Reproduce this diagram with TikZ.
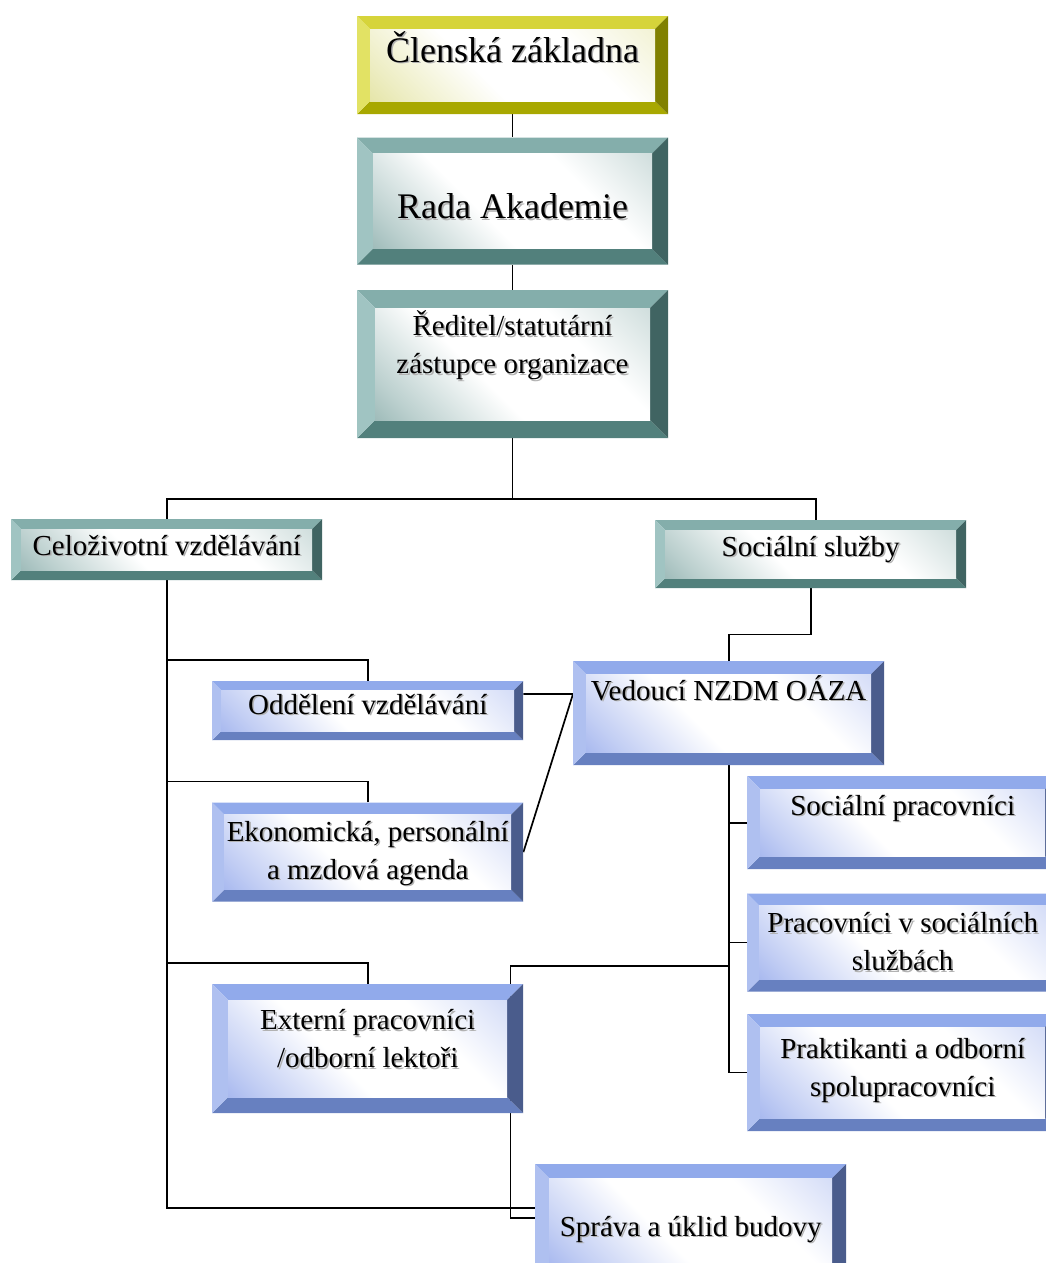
\documentclass[tikz,border=0pt]{standalone}
\usepackage{fontspec}
\setmainfont{Liberation Serif}
\usetikzlibrary{positioning,calc,backgrounds}
\definecolor{yeltop}{RGB}{214,212,58}
\definecolor{yelleft}{RGB}{226,226,100}
\definecolor{yelright}{RGB}{128,128,0}
\definecolor{yelbot}{RGB}{168,168,0}
\definecolor{yelface}{RGB}{215,215,120}
\definecolor{tealtop}{RGB}{132,174,171}
\definecolor{tealleft}{RGB}{160,196,194}
\definecolor{tealright}{RGB}{64,100,98}
\definecolor{tealbot}{RGB}{82,128,124}
\definecolor{tealface}{RGB}{105,150,147}
\definecolor{blutop}{RGB}{145,170,235}
\definecolor{bluleft}{RGB}{175,192,240}
\definecolor{bluright}{RGB}{74,92,140}
\definecolor{blubot}{RGB}{103,128,192}
\definecolor{bluface}{RGB}{120,146,230}
\colorlet{bevS}{bluface}
\pgfdeclareverticalshading[bevS]{bevface}{100bp}{%
  color(0bp)=(bevS); color(22bp)=(bevS!45!white); color(42bp)=(white);
  color(66bp)=(white); color(100bp)=(bevS!55!white)}
\newcommand{\shtxt}[1]{\makebox[0pt][l]{\hspace*{1.6pt}\raisebox{-1.6pt}{\textcolor{black!30}{#1}}}#1}
\tikzset{
  bev width/.store in=\bevw, bev width=13pt,
  bev colors/.style n args={5}{/utils/exec={%
    \def\bevT{#1}\def\bevL{#2}\def\bevR{#3}\def\bevB{#4}\def\bevF{#5}}},
  bevbox/.style={
    rectangle, inner sep=0pt, minimum width=311pt, align=center,
    font=\fontsize{29}{38}\selectfont,
    path picture={
      \coordinate (oSW) at (path picture bounding box.south west);
      \coordinate (oNE) at (path picture bounding box.north east);
      \coordinate (iSW) at ($(oSW)+(\bevw,\bevw)$);
      \coordinate (iNE) at ($(oNE)-(\bevw,\bevw)$);
      \fill[\bevT] (oSW|-oNE) -- (oNE) -- (iNE) -- (iSW|-iNE) -- cycle;
      \fill[\bevB] (oSW) -- (oNE|-oSW) -- (iNE|-iSW) -- (iSW) -- cycle;
      \fill[\bevL] (oSW) -- (oSW|-oNE) -- (iSW|-iNE) -- (iSW) -- cycle;
      \fill[\bevR] (oNE|-oSW) -- (oNE) -- (iNE) -- (iNE|-iSW) -- cycle;
      \colorlet{bevS}{\bevF}
      \shade[shading=bevface, shading angle=-45] (iSW) rectangle (iNE);
    }
  },
  yellowbox/.style={bevbox, bev colors={yeltop}{yelleft}{yelright}{yelbot}{yelface}},
  tealbox/.style={bevbox, bev colors={tealtop}{tealleft}{tealright}{tealbot}{tealface}},
  bluebox/.style={bevbox, bev colors={blutop}{bluleft}{bluright}{blubot}{bluface}},
  bigtext/.style={font=\fontsize{36}{43}\selectfont},
  link/.style={line width=1.7pt},
}

\begin{document}
\begin{tikzpicture}[x=1pt, y=-1pt]
\path[use as bounding box, clip] (0,0) rectangle (1046,1263);

%% ── Top chain ────────────────────────────────────────────────────────────
\node[yellowbox, bigtext, bev width=13pt, text height=46pt, text depth=52pt,
      anchor=north] (clen) at (512.5,16) {\shtxt{Členská základna}};
\node[tealbox, bigtext, bev width=16pt, text height=81pt, text depth=46pt,
      below=23pt of clen] (rada) {\shtxt{Rada Akademie}};
\node[tealbox, bev width=18pt, text height=83.5pt, text depth=64.5pt,
      below=25pt of rada] (red)
  {\shtxt{Ředitel/statutární}\\\shtxt{zástupce organizace}};

%% ── Two branches ─────────────────────────────────────────────────────────
\node[tealbox, bev width=10pt, text height=36pt, text depth=25pt,
      anchor=north west] (cel) at (11,519) {\shtxt{Celoživotní vzdělávání}};
\node[tealbox, bev width=10pt, text height=36pt, text depth=32pt,
      anchor=north west] (soc) at (655,520) {\shtxt{Sociální služby}};

%% ── Left column ──────────────────────────────────────────────────────────
\node[bluebox, bev width=9pt, text height=33pt, text depth=26pt,
      anchor=north west] (odd) at (212,681) {\shtxt{Oddělení vzdělávání}};
\node[bluebox, bev width=12pt, text height=76.5pt, text depth=22.5pt,
      below=62pt of odd] (ek)
  {\shtxt{Ekonomická, personální}\\\shtxt{a mzdová agenda}};
\node[bluebox, bev width=16pt, text height=83.5pt, text depth=45.5pt,
      below=82pt of ek] (ext)
  {\shtxt{Externí pracovníci}\\\shtxt{/odborní lektoři}};

%% ── Right column ─────────────────────────────────────────────────────────
\node[bluebox, bev width=13pt, text height=39pt, text depth=65pt,
      anchor=north west] (ved) at (573,661) {\shtxt{Vedoucí NZDM OÁZA}};
\node[bluebox, bev width=13pt, text height=39pt, text depth=54pt,
      anchor=north west] (sp) at (747,776) {\shtxt{Sociální pracovníci}};
\node[bluebox, bev width=12pt, text height=77pt, text depth=21pt,
      below=24pt of sp] (pv)
  {\shtxt{Pracovníci v sociálních}\\\shtxt{službách}};
\node[bluebox, bev width=13pt, text height=82pt, text depth=35pt,
      below=22pt of pv] (pr)
  {\shtxt{Praktikanti a odborní}\\\shtxt{spolupracovníci}};
\node[bluebox, bev width=14pt, text height=72pt, text depth=42pt,
      anchor=north west] (spr) at (535,1164) {\shtxt{Správa a úklid budovy}};

%% ── Connectors (behind the boxes) ────────────────────────────────────────
\begin{scope}[on background layer]
\begin{scope}[link]
  \draw (clen.south) -- (rada.north);
  \draw (rada.south) -- (red.north);
  \coordinate (fork) at ($(red.south)+(0,61)$);
  \draw (red.south) -- (fork);
  \draw (cel.north) |- (fork) -| ($(soc.north)+(5,0)$);
  \draw (soc.south) -- ++(0,46) -| (ved.north);
  % left trunk
  \coordinate (sprL) at ($(spr.north west)+(0,44)$);
  \draw (cel.south) |- (sprL);
  \foreach \b in {odd,ek,ext}
    \draw (\b.north) -- ++(0,-21) -| (cel.south);
  % right trunk
  \foreach \b in {sp,pv,pr}
    \draw (ved.south) |- (\b.west);
  \coordinate (vedL) at ($(ved.north west)+(0,33)$);
  \draw (odd.east |- vedL) -- (vedL) -- (ek.east);
  \coordinate (extT) at ($(ext.north east)+(-13,-18)$);
  \coordinate (sprR) at ($(spr.north west)+(0,54)$);
  \draw (ved.south |- extT) -- (extT) |- (sprR);
\end{scope}
\end{scope}

\end{tikzpicture}
\end{document}
